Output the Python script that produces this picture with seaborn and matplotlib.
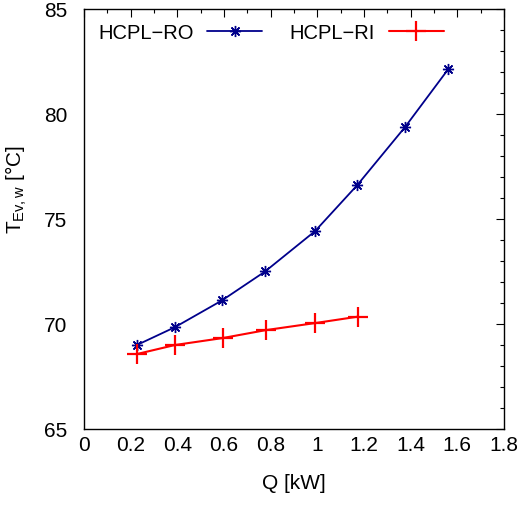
import matplotlib
matplotlib.use("Agg")
import matplotlib.pyplot as plt
import seaborn as sns
import pandas as pd
from matplotlib.ticker import MultipleLocator, FixedLocator

ro_q = [0.227, 0.39, 0.591, 0.776, 0.99, 1.17, 1.376, 1.56]
ro_t = [69.0, 69.85, 71.12, 72.5, 74.42, 76.6, 79.38, 82.12]
ri_q = [0.227, 0.39, 0.594, 0.78, 0.988, 1.174]
ri_t = [68.57, 69.0, 69.33, 69.71, 70.04, 70.35]
labels = ["HCPL\u2212RO", "HCPL\u2212RI"]
xticks = [0, 0.2, 0.4, 0.6, 0.8, 1, 1.2, 1.4, 1.6, 1.8]
xticklabels = ["0", "0.2", "0.4", "0.6", "0.8", "1", "1.2", "1.4", "1.6", "1.8"]
yticks = [65, 70, 75, 80, 85]

sns.set_theme(style="white")
plt.rcParams['font.family'] = ['Liberation Sans', 'DejaVu Sans']
plt.rcParams['mathtext.fontset'] = 'custom'
plt.rcParams['mathtext.rm'] = 'Liberation Sans'
plt.rcParams['mathtext.it'] = 'Liberation Sans'
plt.rcParams['text.color'] = 'black'
plt.rcParams['axes.labelcolor'] = 'black'
plt.rcParams['xtick.color'] = 'black'
plt.rcParams['ytick.color'] = 'black'

FS = 15

df_ro = pd.DataFrame({"Q": ro_q, "T": ro_t})
df_ri = pd.DataFrame({"Q": ri_q, "T": ri_t})

fig = plt.figure(figsize=(5.23, 5.06), dpi=100)
ax = fig.add_axes([84/523, 76/506, 420/523, 420/506])

sns.lineplot(data=df_ro, x="Q", y="T", ax=ax, color="#00008b", lw=1.3,
             marker=(8, 2, 0), markersize=8, markeredgewidth=1.0,
             markeredgecolor="#00008b", label=labels[0])
sns.lineplot(data=df_ri, x="Q", y="T", ax=ax, color="#ff0000", lw=1.5,
             marker="+", markersize=15, markeredgewidth=1.6,
             markeredgecolor="#ff0000", label=labels[1])

ax.set_xlim(0, 1.8)
ax.set_ylim(65, 85)
ax.xaxis.set_major_locator(FixedLocator(xticks))
ax.set_xticklabels(xticklabels)
ax.xaxis.set_minor_locator(MultipleLocator(0.1))
ax.yaxis.set_major_locator(FixedLocator(yticks))
ax.yaxis.set_minor_locator(MultipleLocator(1))
ax.tick_params(which="both", direction="in", top=True, right=True,
               labelsize=FS, colors="black", width=0.8)
ax.tick_params(which="major", length=6)
ax.tick_params(which="minor", length=3)
ax.tick_params(axis="x", which="major", pad=4)
ax.tick_params(axis="y", which="major", pad=12)
for s in ax.spines.values():
    s.set_color("black")
    s.set_linewidth(1.0)

ax.set_xlabel("Q [kW]", fontsize=FS, labelpad=14)
ax.set_ylabel(r"T$_{\mathrm{Ev,w}}$ [°C]", fontsize=FS)
ax.yaxis.set_label_coords(-0.13, 0.572)

leg = ax.legend(loc="upper left", ncol=2, frameon=False, markerfirst=False,
                fontsize=14.5, handlelength=2.75, columnspacing=1.35,
                handletextpad=0.67, borderaxespad=0.3, bbox_to_anchor=(0.0, 1.0))

fig.savefig("out.png", dpi=100)
